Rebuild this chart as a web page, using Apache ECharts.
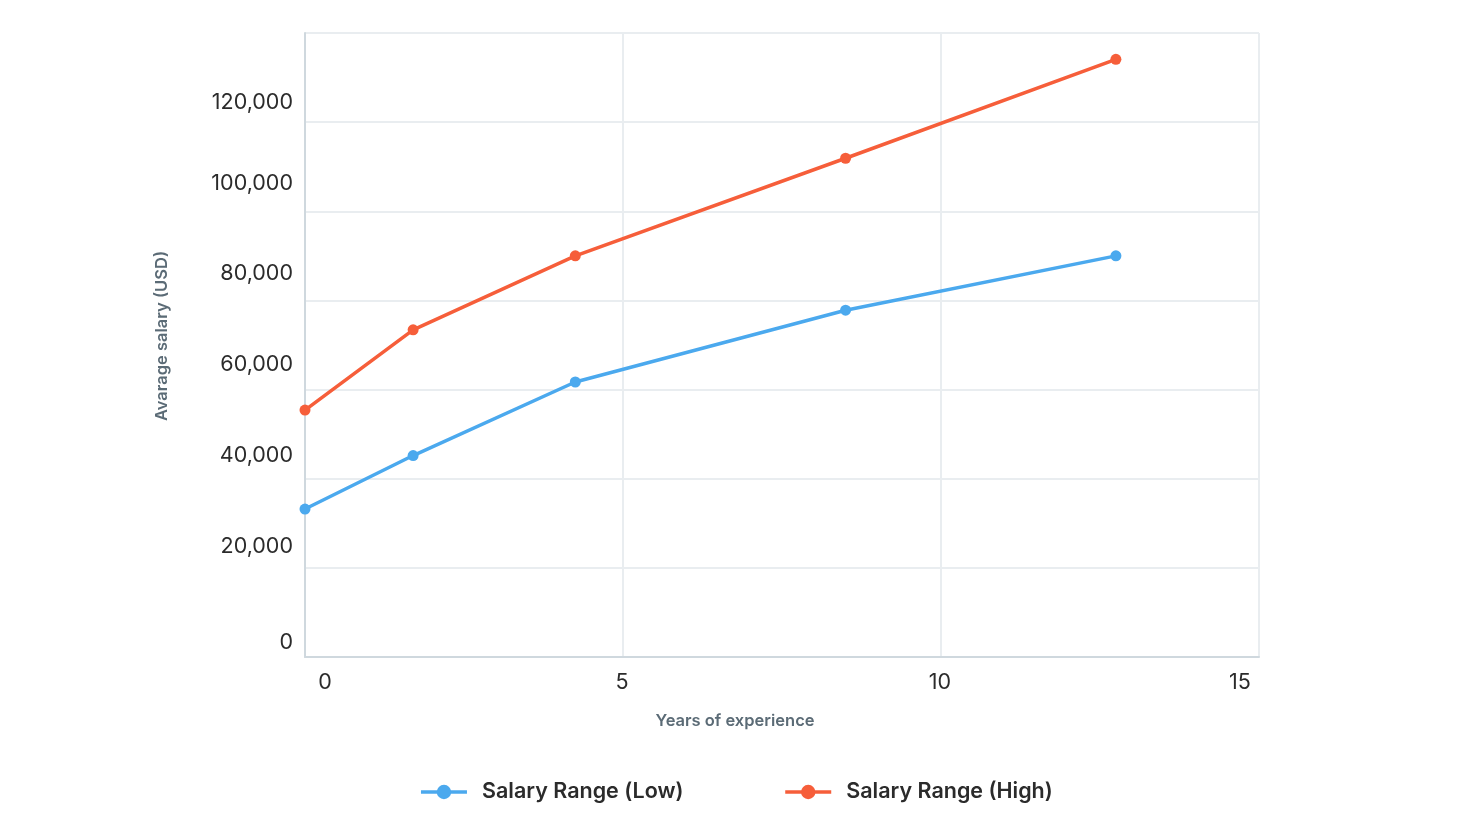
<!DOCTYPE html>
<html>
<head>
<meta charset="utf-8">
<script src="https://cdn.jsdelivr.net/npm/echarts@6/dist/echarts.min.js"></script>
<style>
html,body{margin:0;padding:0;background:#fff;}
#chart{width:1472px;height:828px;}
</style>
</head>
<body>
<div id="chart"></div>
<script>
var years = [0, 1.7, 4.25, 8.5, 12.75];
var salaryLow = [33200, 45200, 61700, 77800, 90000];
var salaryHigh = [55400, 73400, 90000, 111900, 134100];
var seriesNames = ['Salary Range (Low)', 'Salary Range (High)'];
var xAxisTitle = 'Years of experience';
var yAxisTitle = 'Avarage salary (USD)';

var blue = '#4BA9EE';
var orange = '#F65E3A';
var font = 'Inter';
var tickSize = 21.5;

function pairs(xs, ys) { return xs.map(function (x, i) { return [x, ys[i]]; }); }

// label nudges (styling only)
var yShift = {0: 14, 20000: 21, 40000: 23, 60000: 25, 80000: 27, 100000: 28, 120000: 20};
var yRich = {};
Object.keys(yShift).forEach(function (k) {
  yRich['y' + k] = {fontFamily: font, fontSize: tickSize, color: '#2b2b2b', padding: [0, 0, 2 * yShift[k], 0]};
});
var xRich = {
  x0: {fontFamily: font, fontSize: tickSize, color: '#2b2b2b', padding: [0, 0, 0, 40]},
  x5: {fontFamily: font, fontSize: tickSize, color: '#2b2b2b', padding: [0, 2, 0, 0]},
  x10: {fontFamily: font, fontSize: tickSize, color: '#2b2b2b', padding: [0, 2, 0, 0]},
  x15: {fontFamily: font, fontSize: tickSize, color: '#2b2b2b', padding: [0, 38, 0, 0]}
};

var chart = echarts.init(document.getElementById('chart'), null, {renderer: 'canvas'});
chart.setOption({
  backgroundColor: '#ffffff',
  animation: false,
  grid: {left: 305, right: 213, top: 33, bottom: 171, containLabel: false},
  legend: {
    bottom: 20,
    left: 'center',
    itemWidth: 46,
    itemHeight: 18,
    itemGap: 100,
    lineStyle: {width: 3.5},
    textStyle: {fontFamily: font, fontSize: 21.5, fontWeight: 600, color: '#2b2b2b', padding: [0, 0, 0, 10]},
    data: seriesNames
  },
  xAxis: {
    type: 'value',
    min: 0, max: 15, interval: 5,
    name: xAxisTitle,
    nameLocation: 'middle',
    nameGap: 56,
    nameTextStyle: {fontFamily: font, fontSize: 16.5, fontWeight: 600, color: '#5b6b76', padding: [0, 94, 0, 0]},
    axisLine: {show: true, lineStyle: {color: '#cfd8de', width: 2}},
    axisTick: {show: false},
    axisLabel: {
      margin: 15,
      formatter: function (v) { return '{x' + v + '|' + v + '}'; },
      rich: xRich
    },
    splitLine: {show: true, lineStyle: {color: '#e9edf0', width: 2}}
  },
  yAxis: {
    type: 'value',
    min: 0, max: 140000, interval: 20000,
    name: yAxisTitle,
    nameLocation: 'middle',
    nameGap: 134,
    nameTextStyle: {fontFamily: font, fontSize: 16.5, fontWeight: 600, color: '#5b6b76', padding: [0, 0, 0, 18]},
    axisLine: {show: true, lineStyle: {color: '#cfd8de', width: 2}},
    axisTick: {show: false},
    axisLabel: {
      margin: 12,
      showMaxLabel: false,
      formatter: function (v) { return '{y' + v + '|' + v.toLocaleString('en-US') + '}'; },
      rich: yRich
    },
    splitLine: {show: true, lineStyle: {color: '#e9edf0', width: 2}}
  },
  series: [
    {
      name: seriesNames[0], type: 'line',
      data: pairs(years, salaryLow),
      symbol: 'circle', symbolSize: 11,
      lineStyle: {color: blue, width: 3.5},
      itemStyle: {color: blue}
    },
    {
      name: seriesNames[1], type: 'line',
      data: pairs(years, salaryHigh),
      symbol: 'circle', symbolSize: 11,
      lineStyle: {color: orange, width: 3.5},
      itemStyle: {color: orange}
    }
  ]
});
</script>
</body>
</html>
